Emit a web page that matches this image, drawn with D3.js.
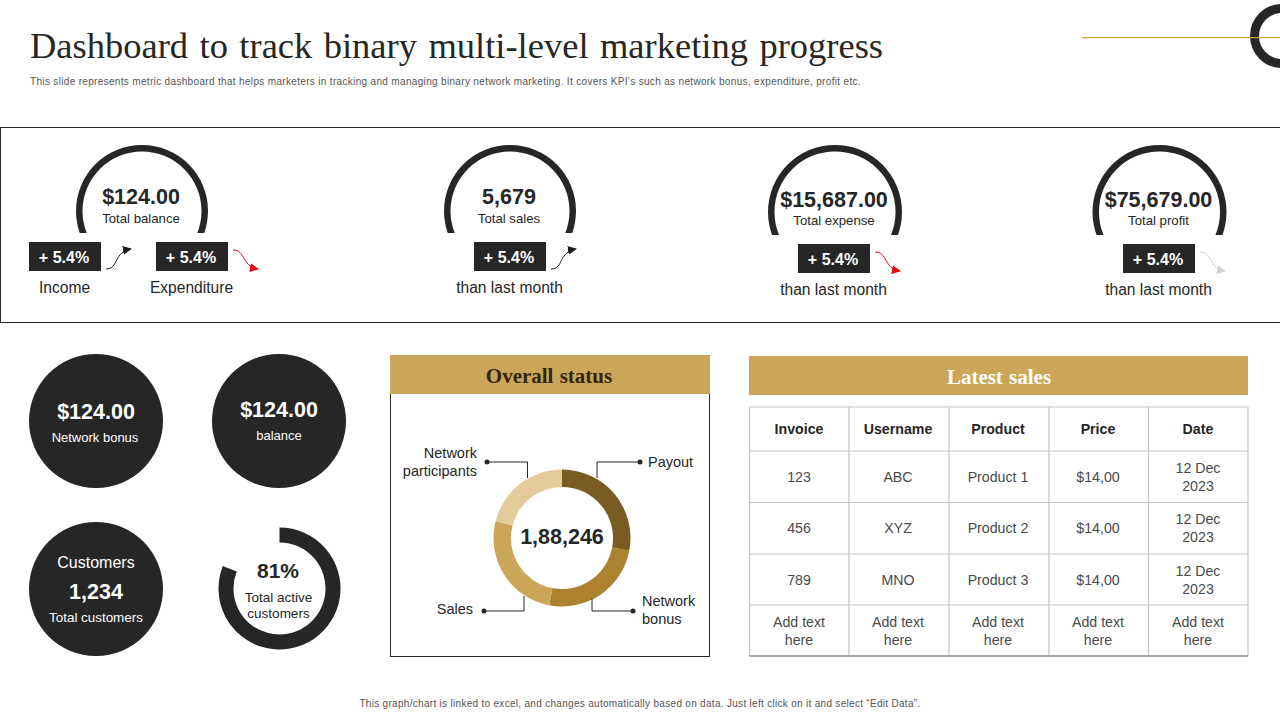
<!DOCTYPE html>
<html lang="en">
<head>
<meta charset="UTF-8">
<title>Dashboard to track binary multi-level marketing progress</title>
<script src="https://d3js.org/d3.v7.min.js"></script>
<style>
  html, body { margin: 0; padding: 0; background: #fff; }
  svg { display: block; }
  text { font-family: "Liberation Sans", Arial, sans-serif; fill: #262626; }
  .serif { font-family: "Liberation Serif", serif; }
</style>
</head>
<body>
<svg id="chart" width="1280" height="720" viewBox="0 0 1280 720"></svg>
<script>
// data
const kpiValues = ["$124.00", "5,679", "$15,687.00", "$75,679.00"];
const kpiLabels = ["Total balance", "Total sales", "Total expense", "Total profit"];
const badgeText = "+ 5.4%";
const badgeLabels = ["Income", "Expenditure", "than last month", "than last month", "than last month"];
const badgeTrends = ["up", "down", "up", "down", "flat"];
const circleValues = ["$124.00", "$124.00"];
const circleLabels = ["Network bonus", "balance"];
const customersValue = "1,234";
const activeShare = 81;
const statusCategories = ["Payout", "Network\nbonus", "Sales", "Network\nparticipants"];
const statusShares = [28, 25, 26, 21];
const statusTotal = "1,88,246";
const tableHeaders = ["Invoice", "Username", "Product", "Price", "Date"];
const tableRows = [
  ["123", "ABC", "Product 1", "$14,00", "12 Dec\n2023"],
  ["456", "XYZ", "Product 2", "$14,00", "12 Dec\n2023"],
  ["789", "MNO", "Product 3", "$14,00", "12 Dec\n2023"],
  ["Add text\nhere", "Add text\nhere", "Add text\nhere", "Add text\nhere", "Add text\nhere"]
];

// colours
const ink = "#262626";
const gold = "#cca658";
const statusColors = ["#7a5c22", "#ac822f", "#cca658", "#e3cb9c"];
const trendColors = { up: "#1a1a1a", down: "#e30613", flat: "#cfcfcf" };

// layout
const gaugeX = [142, 510, 835, 1159.5];
const gaugeY = [211, 211, 212, 212];
const gaugeR = [66, 66, 67, 67];
const gaugeCut = [233, 233, 235, 235];
const gaugeTextY = [204, 204, 207, 207];
const gaugeLabelY = [223, 223, 225, 225];
const gaugeTextShift = [-1, -1, -1, -1];
const badgeX = [29, 156, 474, 798, 1123];
const badgeY = [242, 242, 242, 244, 244];
const badgeW = 72, badgeH = 29;

const svg = d3.select("#chart");
const defs = svg.append("defs");

Object.entries(trendColors).forEach(([k, c]) => {
  defs.append("marker").attr("id", "arrow-" + k)
    .attr("viewBox", "0 0 10 10").attr("refX", 9).attr("refY", 5)
    .attr("markerWidth", 9).attr("markerHeight", 9)
    .attr("markerUnits", "userSpaceOnUse").attr("orient", "auto")
    .append("path").attr("d", "M0,0L10,5L0,10Z").attr("fill", c);
});

function label(parent, x, y, txt, size, opts) {
  opts = opts || {};
  const lines = String(txt).split("\n");
  const lh = opts.lineHeight || size * 1.3;
  const t = parent.append("text")
    .attr("x", x).attr("y", y)
    .attr("text-anchor", opts.anchor || "middle")
    .attr("font-size", size)
    .attr("font-weight", opts.weight || "normal");
  if (opts.cls) t.attr("class", opts.cls);
  if (opts.fill) t.style("fill", opts.fill);
  if (opts.spacing) t.attr("word-spacing", opts.spacing);
  if (opts.tracking) t.attr("letter-spacing", opts.tracking);
  lines.forEach((l, i) => {
    t.append("tspan").attr("x", x).attr("dy", i ? lh : 0).text(l);
  });
  return t;
}

// title block
label(svg, 30, 58, "Dashboard to track binary multi-level marketing progress", 36.5,
  { anchor: "start", cls: "serif", spacing: 2.3 });
label(svg, 30, 85, "This slide represents metric dashboard that helps marketers in tracking and managing binary network marketing. It covers KPI\u2019s such as network bonus, expenditure, profit etc.", 10,
  { anchor: "start", fill: "#555", tracking: 0.33 });

// corner ornament
svg.append("circle").attr("cx", 1282).attr("cy", 36).attr("r", 27.5)
  .attr("fill", "none").attr("stroke", ink).attr("stroke-width", 9);
svg.append("rect").attr("x", 1082).attr("y", 37).attr("width", 198).attr("height", 1.2)
  .attr("fill", "#c8a440");

// KPI band
svg.append("rect").attr("x", 0.5).attr("y", 127.5).attr("width", 1290).attr("height", 195)
  .attr("fill", "none").attr("stroke", ink).attr("stroke-width", 1);

const fullArc = d3.arc().startAngle(0).endAngle(2 * Math.PI);
kpiValues.forEach((v, i) => {
  const clipId = "gauge-clip-" + i;
  defs.append("clipPath").attr("id", clipId).append("rect")
    .attr("x", gaugeX[i] - 80).attr("y", gaugeY[i] - 80)
    .attr("width", 160).attr("height", gaugeCut[i] - gaugeY[i] + 80);
  svg.append("g").attr("clip-path", `url(#${clipId})`)
    .append("path")
    .attr("transform", `translate(${gaugeX[i]},${gaugeY[i]})`)
    .attr("d", fullArc({ innerRadius: gaugeR[i] - 6.5, outerRadius: gaugeR[i] }))
    .attr("fill", ink);
  label(svg, gaugeX[i] + gaugeTextShift[i], gaugeTextY[i], v, 21.5, { weight: "bold" });
  label(svg, gaugeX[i] + gaugeTextShift[i], gaugeLabelY[i], kpiLabels[i], 13.2);
});

badgeLabels.forEach((l, i) => {
  const x = badgeX[i], y = badgeY[i], tr = badgeTrends[i];
  svg.append("rect").attr("x", x).attr("y", y).attr("width", badgeW).attr("height", badgeH).attr("fill", ink);
  label(svg, x + badgeW / 2 - 1, y + 21, badgeText, 16, { weight: "bold", fill: "#fff" });
  label(svg, x + badgeW / 2 - 0.5, y + 51, l, 15.6);
  // wavy trend arrow beside the badge
  const p = d3.path();
  const ax = x + badgeW + 5;
  if (tr === "up") {
    p.moveTo(ax, y + 27);
    p.bezierCurveTo(ax + 13, y + 27, ax + 7, y + 10, ax + 25, y + 7);
  } else {
    p.moveTo(ax, y + 8);
    p.bezierCurveTo(ax + 13, y + 8, ax + 8, y + 24, ax + 25, y + 27);
  }
  svg.append("path").attr("d", p.toString()).attr("fill", "none")
    .attr("stroke", trendColors[tr]).attr("stroke-width", 1)
    .attr("marker-end", `url(#arrow-${tr})`);
});

// black stat circles
const circleX = [96, 279];
circleValues.forEach((v, i) => {
  svg.append("circle").attr("cx", circleX[i]).attr("cy", 421).attr("r", 67).attr("fill", ink);
  label(svg, circleX[i] - (i ? 0 : 0), i ? 417 : 419, v, 21.5, { weight: "bold", fill: "#fff" });
  label(svg, circleX[i] - (i ? 0 : 1), i ? 440 : 442, circleLabels[i], 13, { fill: "#fff" });
});
svg.append("circle").attr("cx", 96).attr("cy", 589).attr("r", 67).attr("fill", ink);
label(svg, 96, 568, "Customers", 16, { fill: "#fff" });
label(svg, 96, 599, customersValue, 21.5, { weight: "bold", fill: "#fff" });
label(svg, 96, 622, "Total customers", 13.4, { fill: "#fff" });

// active customers ring
const activeScale = d3.scaleLinear().domain([0, 100]).range([0, 2 * Math.PI]);
svg.append("path").attr("transform", "translate(279.5,588.5)")
  .attr("d", d3.arc()({ innerRadius: 46, outerRadius: 61, startAngle: 0, endAngle: activeScale(activeShare) }))
  .attr("fill", ink);
label(svg, 278, 578, activeShare + "%", 21, { weight: "bold" });
label(svg, 278.5, 602, "Total active\ncustomers", 13.5, { lineHeight: 16 });

// overall status panel
svg.append("rect").attr("x", 390.5).attr("y", 355.5).attr("width", 319).attr("height", 301)
  .attr("fill", "none").attr("stroke", ink).attr("stroke-width", 1);
svg.append("rect").attr("x", 390).attr("y", 355).attr("width", 320).attr("height", 39).attr("fill", gold);
label(svg, 549, 383, "Overall status", 21, { cls: "serif", weight: "bold", fill: "#33240c", spacing: 1 });

const pie = d3.pie().sort(null)(statusShares);
const donut = d3.arc().innerRadius(51).outerRadius(68.5);
svg.append("g").attr("transform", "translate(562,538)")
  .selectAll("path").data(pie).join("path")
  .attr("d", donut)
  .attr("fill", (d, i) => statusColors[i]);
label(svg, 562, 544, statusTotal, 21.5, { weight: "bold" });

// leader lines: elbow from the ring to a dot, then the label
const leaderPts = [
  { from: [597, 478], elbow: [597, 462], dot: [640, 462], tx: 648, ty: 467, anchor: "start" },
  { from: [592, 598], elbow: [592, 611], dot: [633, 611], tx: 642, ty: 606, anchor: "start" },
  { from: [524, 596], elbow: [524, 611], dot: [484, 611], tx: 473, ty: 614, anchor: "end" },
  { from: [527.5, 478], elbow: [527.5, 462], dot: [487, 462], tx: 477, ty: 458, anchor: "end" }
];
statusCategories.forEach((name, i) => {
  const d = leaderPts[i];
  svg.append("path").attr("d", d3.line()([d.from, d.elbow, d.dot]))
    .attr("fill", "none").attr("stroke", ink).attr("stroke-width", 1);
  svg.append("circle").attr("cx", d.dot[0]).attr("cy", d.dot[1]).attr("r", 2.5).attr("fill", ink);
  label(svg, d.tx, d.ty, name, 14.5, { anchor: d.anchor, lineHeight: 18 });
});

// latest sales table
svg.append("rect").attr("x", 749).attr("y", 356).attr("width", 499).attr("height", 39).attr("fill", gold);
label(svg, 999, 384, "Latest sales", 21, { cls: "serif", weight: "bold", fill: "#fff", spacing: 1 });

const colEdges = [749.5, 849, 949, 1049, 1148.5, 1248];
const colCentres = [799, 898, 998, 1098, 1198];
const rowEdges = [407, 451, 502.5, 554, 605, 656];
colEdges.forEach(x => svg.append("line").attr("x1", x).attr("x2", x)
  .attr("y1", rowEdges[0]).attr("y2", rowEdges[5]).attr("stroke", "#c4c4c4").attr("stroke-width", 1.2));
rowEdges.forEach((y, i) => svg.append("line").attr("x1", colEdges[0]).attr("x2", colEdges[5])
  .attr("y1", y).attr("y2", y).attr("stroke", i === 5 ? "#8c8c8c" : "#c4c4c4").attr("stroke-width", i === 5 ? 1.6 : 1.2));

tableHeaders.forEach((h, c) => {
  label(svg, colCentres[c], 434, h, 14.2, { weight: "bold" });
});
tableRows.forEach((row, r) => {
  const cy = (rowEdges[r + 1] + rowEdges[r + 2]) / 2;
  row.forEach((cell, c) => {
    const two = cell.includes("\n");
    label(svg, colCentres[c], two ? cy - 4 : cy + 5, cell, 14.2, { lineHeight: 18, fill: "#4a4a4a" });
  });
});

// footer
label(svg, 640, 707, "This graph/chart is linked to excel, and changes automatically based on data. Just left click on it and select \u201cEdit Data\u201d.", 10, { fill: "#555", tracking: 0.3 });
</script>
</body>
</html>
